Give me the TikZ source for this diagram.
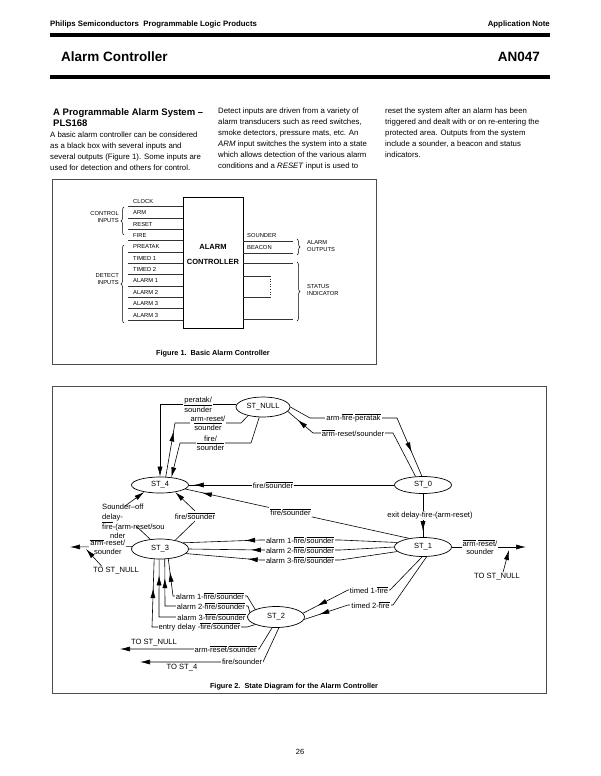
\documentclass[tikz,border=0pt]{standalone}
\usepackage{fontspec}
\setmainfont{Liberation Sans}
\usetikzlibrary{shapes.geometric,arrows.meta,decorations.pathreplacing,decorations.markings}

\newcommand{\nt}[1]{$\overline{\mbox{#1}}$}

\begin{document}
\begin{tikzpicture}[
    x=1pt, y=-1pt,
    hdr/.style={font=\bfseries\fontsize{7.8}{9}\selectfont, inner sep=0pt},
    ttl/.style={font=\bfseries\fontsize{13.5}{16}\selectfont, inner sep=0pt},
    body/.style={font=\fontsize{7.8}{11}\selectfont, align=left, inner sep=0pt, anchor=north west},
    figframe/.style={draw=black!70, line width=1pt},
    figcap/.style={font=\bfseries\fontsize{7.3}{9}\selectfont, inner sep=0pt},
    sig/.style={font=\fontsize{5.8}{7}\selectfont, inner sep=0pt, anchor=base west},
    grp/.style={font=\fontsize{5.8}{7.5}\selectfont, inner sep=0pt, align=right},
    wire/.style={draw=black!80, line width=0.6pt},
    brc/.style={decorate, decoration={brace, amplitude=3pt}, line width=0.5pt},
    state/.style={ellipse, draw, line width=0.7pt, inner sep=0pt, minimum width=57pt, minimum height=19pt, font=\fontsize{7.5}{9}\selectfont},
    lab/.style={font=\fontsize{7.6}{8.8}\selectfont, fill=white, inner sep=1pt, align=center},
    tr/.style={line width=0.6pt, -{Latex[length=10pt,width=5pt]}},
    ln/.style={line width=0.6pt},
    tipat/.style={postaction={decorate}, decoration={markings, mark=at position #1 with {\arrow{Latex[length=10pt,width=5pt]}}}}
]
\useasboundingbox (0,0) rectangle (600,776);

% page head
\node[hdr, anchor=base west] (phl) at (50,27) {Philips Semiconductors\ \ Programmable Logic Products};
\node[hdr, anchor=base east] (apn) at (550,27) {Application Note};
\fill (50,33.5) rectangle (550,37);
\node[ttl, anchor=base west] (ttla) at (61,62) {Alarm Controller};
\node[ttl, anchor=base east] (ttlb) at (540,62) {AN047};
\fill (50,75) rectangle (550,78.5);

% text columns
\node[body, font=\bfseries\fontsize{9.5}{11}\selectfont] (head) at (53,108) {A Programmable Alarm System --\\PLS168};
\node[body] (col1) at (50,131.3) {A basic alarm controller can be considered\\as a black box with several inputs and\\several outputs (Figure 1). Some inputs are\\used for detection and others for control.};
\node[body] (col2) at (218,107.3) {Detect inputs are driven from a variety of\\alarm transducers such as reed switches,\\smoke detectors, pressure mats, etc. An\\\textit{ARM} input switches the system into a state\\which allows detection of the various alarm\\conditions and a \textit{RESET} input is used to};
\node[body] (col3) at (385,107.3) {reset the system after an alarm has been\\triggered and dealt with or on re-entering the\\protected area. Outputs from the system\\include a sounder, a beacon and status\\indicators.};

% Figure 1
\draw[figframe] (52,179) rectangle (376,364);
\node[draw, line width=0.8pt, minimum width=60pt, minimum height=131pt, inner sep=0pt] (ctrl) at (213,262.5) {};
\node[font=\bfseries\fontsize{7.5}{15}\selectfont, align=center] (ctrltxt) at (213,254) {ALARM\\CONTROLLER};
\foreach \sg [count=\i from 0] in {CLOCK,ARM,RESET,FIRE,PREATAK,TIMED 1,TIMED 2,ALARM 1,ALARM 2,ALARM 3,ALARM 3} {
  \pgfmathsetmacro{\yy}{206.5+11.35*\i}
  \draw[wire] (128,\yy) -- (183,\yy);
  \node[sig] (in\i) at (133,\yy-3) {\sg};
}
\draw[brc] (124,235) -- (124,207);
\node[grp, anchor=east] (ctlin) at (119,217) {CONTROL\\INPUTS};
\draw[brc] (124,323) -- (124,245);
\node[grp, anchor=east] (detin) at (119,279) {DETECT\\INPUTS};

\node[sig] (snd) at (247,237) {SOUNDER};
\node[sig] (bcn) at (247,249) {BEACON};
\draw[wire] (243,241) -- (293,241);
\draw[wire] (243,253) -- (293,253);
\draw[brc] (297,239) -- (297,255);
\node[grp, align=left, anchor=west] (alout) at (307,246) {ALARM\\OUTPUTS};
\draw[wire] (243,263) -- (293,263);
\draw[wire] (243,276) -- (270,276);
\draw[wire] (243,297) -- (270,297);
\draw[wire, dotted] (270,276) -- (270,297);
\draw[wire] (243,319) -- (293,319);
\draw[brc] (297,262) -- (297,321);
\node[grp, align=left, anchor=west] (stind) at (307,290) {STATUS\\INDICATOR};
\node[figcap] (cap1) at (213,354) {Figure 1.\ \ Basic Alarm Controller};

% Figure 2
\draw[figframe] (52,386) rectangle (546,693);
\node[state, minimum width=54pt, minimum height=20pt] (STNULL) at (263,407) {ST\_NULL};
\node[state, minimum height=16pt] (ST4) at (160,485) {ST\_4};
\node[state, minimum height=17pt] (ST0) at (423,485) {ST\_0};
\node[state, minimum height=20pt] (ST3) at (160,549) {ST\_3};
\node[state] (ST1) at (423,547) {ST\_1};
\node[state, minimum height=21pt] (ST2) at (276,617) {ST\_2};

% ST_NULL <-> ST_0
\coordinate (k1a) at (310,418);
\coordinate (k1b) at (397,418);
\draw[ln, tipat=-26pt] (STNULL.0) -- (k1a) -- node[lab] (t1) {arm-\nt{fire}-\nt{peratak}} (k1b) -- (ST0.97);
\coordinate (k2a) at (393,433);
\coordinate (k2b) at (313,433);
\draw[ln, tipat=-13pt] (ST0.131) -- (k2a) -- node[lab] (t2) {\nt{arm}-reset/sounder} (k2b) -- (STNULL.-10);

% ST_NULL <-> ST_4
\coordinate (k3) at (ST4.north |- STNULL.175);
\draw[tr] (STNULL.175) -- node[lab] (t3) {peratak/\\\nt{sounder}} (k3) -- (ST4.north);
\coordinate (k4a) at (175,423);
\coordinate (k4b) at (241,423);
\draw[ln, tipat=46pt] (ST4.55) -- (k4a) -- node[lab] (t4) {arm-reset/\\\nt{sounder}} (k4b) -- (STNULL.-150);
\coordinate (k5a) at (251,443);
\coordinate (k5b) at (180,443);
\draw[tr] (STNULL.-110) -- (k5a) -- node[lab, pos=.57] (t5) {fire/\\\nt{sounder}} (k5b) -- (ST4.34);

% into ST_4
\draw[ln, tipat=-5pt] (ST0.west) -- node[lab, pos=.59] (t6) {fire/\nt{sounder}} (ST4.east);
\draw[ln, tipat=-17pt] (ST1.148) -- node[lab, pos=.53] (t7) {\nt{fire}/\nt{sounder}} (ST4.-9);
\node[lab] (t8) at (195,516) {fire/\nt{sounder}};
\draw[ln] (ST3.30) -- (t8.south);
\draw[tr] (t8.north) -- (ST4.-25);
\node[lab, fill=none, align=left, font=\fontsize{7.6}{9.7}\selectfont, anchor=north west] (t9) at (101,503) {Sounder--off\\delay-\\\nt{fire}-(arm-reset/sou\\\hspace*{8pt}nder};
\coordinate (k9a) at (136,526);
\coordinate (k9b) at (125,506);
\draw[ln] (ST3.135) -- (k9a);
\draw[tr] (k9b) -- (ST4.-156);

% ST_3 out
\coordinate (o3) at (70,547);
\draw[tr] (ST3.175) -- node[lab, pos=.39] (t10) {\nt{arm}-reset/\\sounder} (o3);
\node[lab, fill=none] (tn3) at (116,571) {TO ST\_NULL};
\coordinate (o3b) at (86,549);
\draw[tr] ([xshift=10pt]tn3.north west) -- (o3b);

% ST_1 out
\coordinate (o1) at (526,547);
\draw[tr] (ST1.east) -- node[lab, pos=.38] (t11) {\nt{arm}-\nt{reset}/\\sounder} (o1);
\node[lab, fill=none] (tn1) at (497,577) {TO ST\_NULL};
\coordinate (o1b) at (509,550);
\draw[tr] ([xshift=6pt]tn1.north) -- (o1b);

% ST_0 -> ST_1
\draw[ln, tipat=-6pt] (ST0.south) -- node[lab, xshift=7pt] (t12) {exit delay-fire-(arm-reset)} (ST1.north);

% ST_1 -> ST_3
\foreach \n/\yl/\a/\b in {1/540/170/15, 2/550/180/0, 3/560/190/-10}
  \draw[ln, tipat=-62pt] (ST1.\a) -- (340,\yl) -- node[lab] (al\n) {alarm \n-\nt{fire}/\nt{sounder}} (260,\yl) -- (ST3.\b);

% ST_1 -> ST_2
\draw[ln, tipat=-16pt] (ST1.-95) -- (390,590) -- node[lab] (tm1) {timed 1-\nt{fire}} (348,590) -- (ST2.8);
\draw[ln, tipat=-16pt] (ST1.-70) -- (393,605) -- node[lab] (tm2) {timed 2-\nt{fire}} (348,605) -- (ST2.-5);

% ST_2 -> ST_3
\draw[ln, tipat=-13pt] (ST2.160) -- (247,596) -- node[lab] (sa1) {alarm 1-\nt{fire}/\nt{sounder}} (173,596) -- (ST3.-50);
\draw[ln, tipat=-19pt] (ST2.170) -- (248,606) -- node[lab] (sa2) {alarm 2-\nt{fire}/\nt{sounder}} (174,606) -- (165,606) -- (ST3.-65);
\draw[ln, tipat=-16pt] (ST2.180) -- (248,617) -- node[lab] (sa3) {alarm 3-\nt{fire}/\nt{sounder}} (175,617) -- (159,617) -- (ST3.-95);
\draw[ln, tipat=-29pt] (ST2.200) -- (247,627) -- node[lab] (sed) {entry delay -\nt{fire}/\nt{sounder}} (152,627) -- (ST3.-120);

% ST_2 out
\coordinate (o2a) at (120,649);
\draw[tr] (ST2.-110) -- (259,649) -- node[lab, pos=.24] (rs2) {arm-\nt{reset}/\nt{sounder}} (o2a);
\node[lab, fill=none] (tn2a) at (154,643) {TO ST\_NULL};
\coordinate (o2b) at (140,662);
\draw[tr] (ST2.-75) -- (263,662) -- node[lab, pos=.17] (fs2) {fire/sounder} (o2b);
\node[lab, fill=none] (tn2b) at (182,668) {TO ST\_4};

\node[figcap] (cap2) at (294,687) {Figure 2.\ \ State Diagram for the Alarm Controller};
\node[font=\fontsize{7.5}{9}\selectfont] (pgno) at (300,752) {26};
\end{tikzpicture}
\end{document}
